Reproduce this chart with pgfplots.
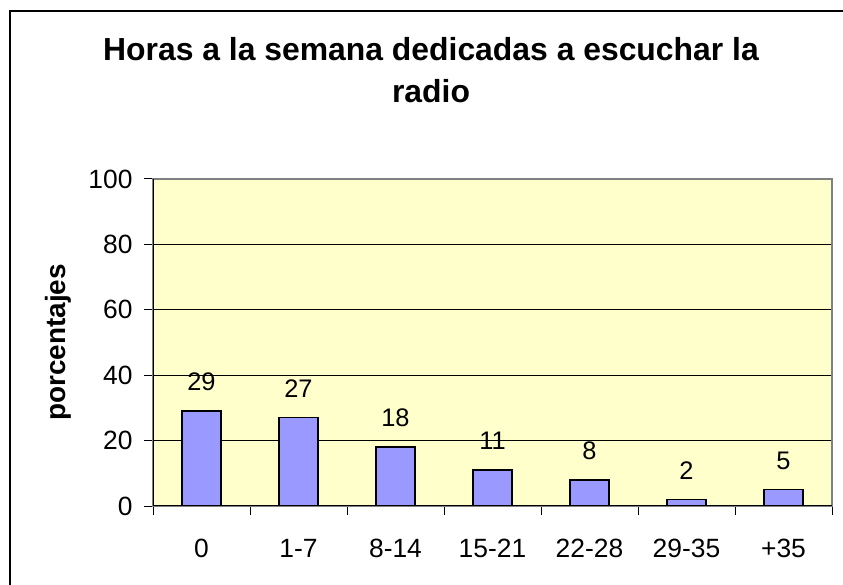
\documentclass[border=0pt]{standalone}
\usepackage{fontspec}
\setmainfont{Liberation Sans}
\usepackage{pgfplots}
\pgfplotsset{compat=1.18}
\definecolor{plotbg}{HTML}{FFFFCC}
\definecolor{barfill}{HTML}{9999FF}
\definecolor{bordergray}{HTML}{808080}

\begin{document}
\begin{tikzpicture}
\path[use as bounding box] (0bp,0bp) rectangle (843bp,585bp);
\draw[line width=1.5bp] (10bp,0bp) -- (10bp,574bp) -- (843bp,574bp);
% title, two lines
\node[anchor=base, font=\bfseries\fontsize{32}{36}\selectfont] at (431bp,524bp) {Horas a la semana dedicadas a escuchar la};
\node[anchor=base, font=\bfseries\fontsize{32}{36}\selectfont] at (431bp,482bp) {radio};
\begin{axis}[
  at={(153bp,79bp)}, anchor=south west,
  scale only axis, width=679bp, height=327bp,
  ybar, bar width=39bp,
  xmin=-0.5, xmax=6.5, ymin=0, ymax=100,
  xtick={0,...,6},
  xticklabels={0,1-7,8-14,15-21,22-28,29-35,+35},
  major x tick style={draw=none},
  minor xtick={-0.5,0.5,...,6.5},
  ytick={0,20,...,100},
  tick pos=left, tick align=outside,
  major tick length=9bp, minor tick length=9bp,
  tick style={black, line width=1bp},
  ymajorgrids, grid style={black, line width=0.9bp},
  axis line style={draw=bordergray, line width=1.5bp},
  axis background/.style={fill=plotbg},
  xticklabel style={font=\fontsize{26.5}{30}\selectfont, anchor=base, yshift=-42bp},
  yticklabel style={font=\fontsize{26.5}{30}\selectfont, xshift=-8bp},
  /pgf/number format/assume math mode=true,
  ylabel={\bfseries porcentajes},
  ylabel style={at={(axis description cs:-0.1399,0.5)}, anchor=center, font=\fontsize{28}{32}\selectfont},
  nodes near coords,
  nodes near coords style={font=\fontsize{25.5}{30}\selectfont, black, yshift=16bp},
]
\addplot[fill=barfill, draw=black, line width=1.5bp] coordinates {
  (0,29) (1,27) (2,18) (3,11) (4,8) (5,2) (6,5)
};
\draw[black, line width=1.5bp] (rel axis cs:0,1) -- (rel axis cs:0,0) -- (rel axis cs:1,0);
\end{axis}
\end{tikzpicture}
\end{document}
